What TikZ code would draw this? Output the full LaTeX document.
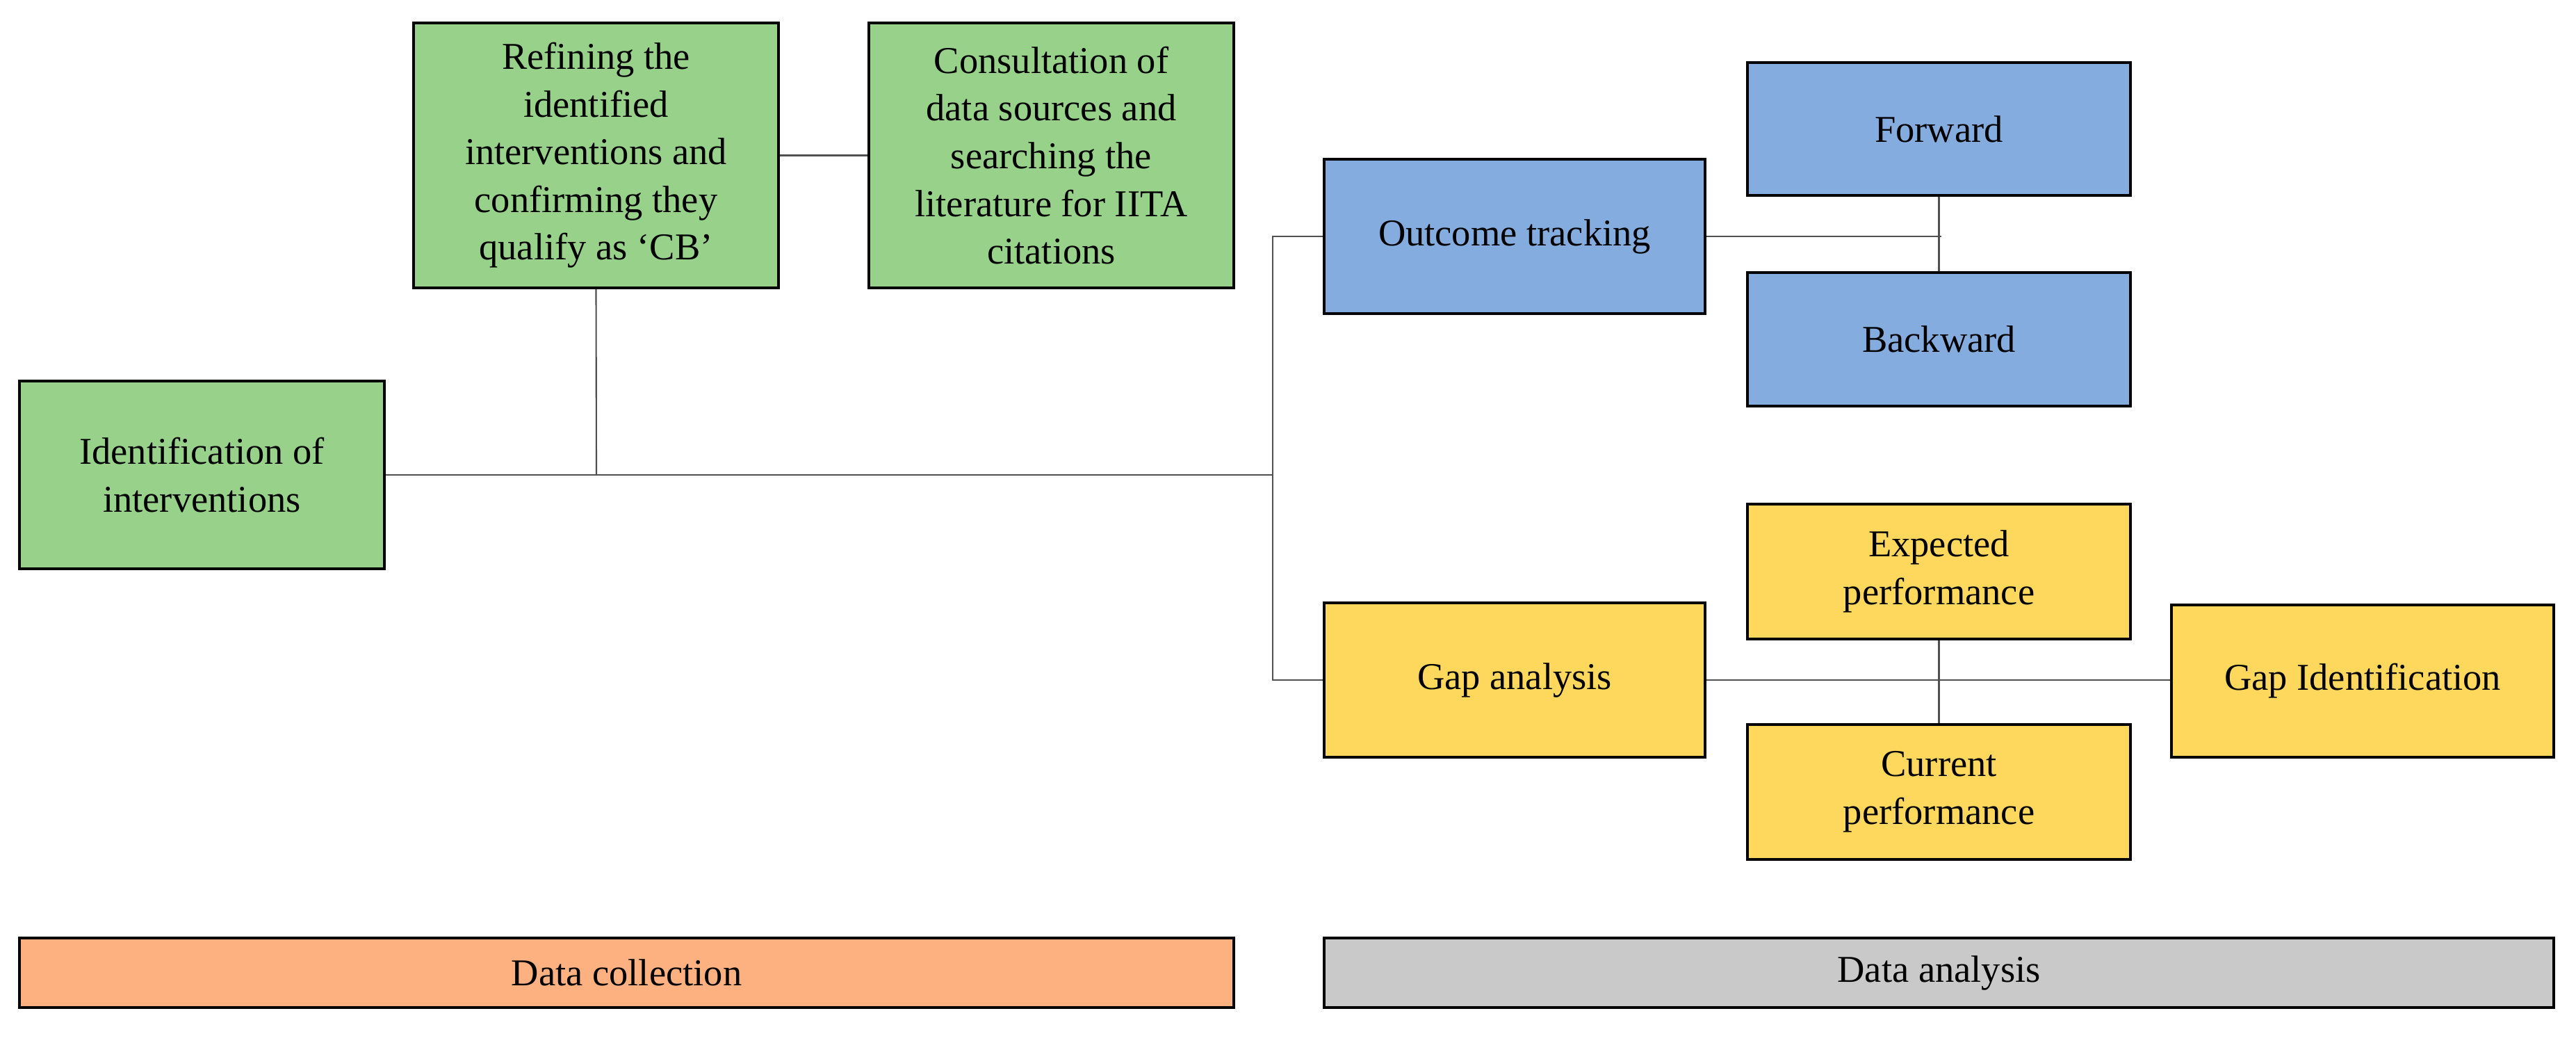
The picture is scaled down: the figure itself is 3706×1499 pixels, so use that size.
\documentclass[tikz,border=0pt]{standalone}
\usepackage{fontspec}
\setmainfont{Liberation Serif}
\begin{document}
\begin{tikzpicture}[x=0.01cm,y=-0.01cm,
  box/.style={draw=black,line width=0.9pt,align=center,inner sep=2pt,font=\fontsize{15.5}{19.5}\selectfont},
  green/.style={fill={rgb,255:red,152;green,210;blue,138}},
  blue/.style={fill={rgb,255:red,132;green,172;blue,222}},
  yel/.style={fill={rgb,255:red,254;green,216;blue,92}},
  org/.style={fill={rgb,255:red,253;green,177;blue,128}},
  gry/.style={fill={rgb,255:red,201;green,201;blue,201}},
  con/.style={draw={rgb,255:red,80;green,80;blue,80},line width=0.6pt}]
\useasboundingbox (0,0) rectangle (3706,1499);
\newcommand{\bx}[5]{\node[box,#1,minimum width={(#4-#2)*0.01cm},minimum height={(#5-#3)*0.01cm}] at ({(#2+#4)/2},{(#3+#5)/2})}
\bx{green}{28}{548}{553}{818} (id) {Identification of\\interventions};
\bx{green}{595}{33}{1120}{414} (ref) {Refining the\\identified\\interventions and\\confirming they\\qualify as `CB'};
\bx{green}{1250}{33}{1775}{414} (con) {Consultation of\\data sources and\\searching the\\literature for IITA\\citations};
\bx{blue}{1905}{229}{2453}{451} (out) {Outcome tracking};
\bx{blue}{2514}{90}{3065}{281} (fw) {Forward};
\bx{blue}{2514}{392}{3065}{584} (bw) {Backward};
\bx{yel}{2514}{725}{3065}{919} (exp) {Expected\\performance};
\bx{yel}{1905}{867}{2453}{1089} (gap) {Gap analysis};
\bx{yel}{2514}{1042}{3065}{1236} (cur) {Current\\performance};
\bx{yel}{3124}{870}{3674}{1089} (gid) {Gap Identification};
\bx{org}{28}{1349}{1775}{1449} (dc) {Data collection};
\bx{gry}{1905}{1349}{3674}{1449} (da) {Data analysis};
\coordinate (j1) at (858,683);
\coordinate (br) at (1831,683);
\coordinate (j2) at (2793,340);
\coordinate (j3) at (2793,978);
\draw[con] (id.east |- j1) -- (br);
\draw[con] (ref.south) -- (j1);
\draw[con] (ref.east) -- (con.west);
\draw[con] (out.west) -| (br) |- (gap.west);
\draw[con] (out.east |- j2) -- (j2);
\draw[con] (fw.south) -- (bw.north);
\draw[con] (exp.south) -- (cur.north);
\draw[con] (gap.east |- j3) -- (gid.west |- j3);
\end{tikzpicture}
\end{document}
